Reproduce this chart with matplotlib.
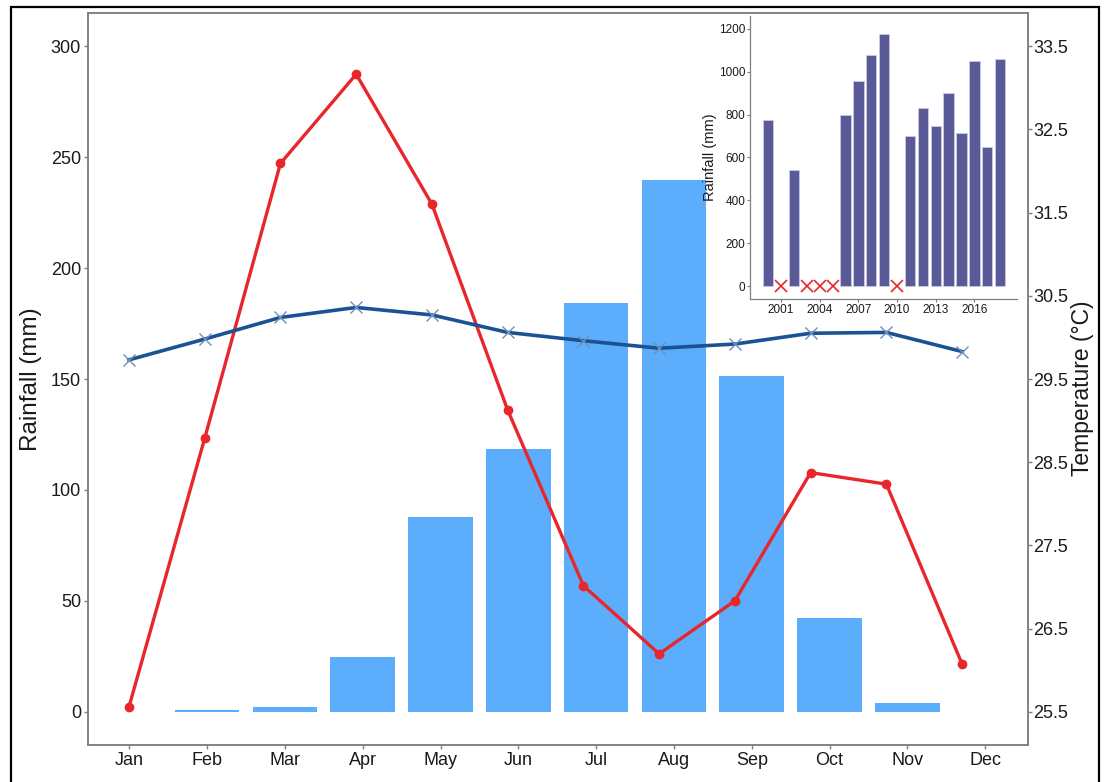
import matplotlib.pyplot as plt
from matplotlib.patches import Rectangle

plt.rcParams['font.family'] = ['Liberation Sans', 'DejaVu Sans']

# monthly data
months = ["Jan", "Feb", "Mar", "Apr", "May", "Jun", "Jul", "Aug", "Sep", "Oct", "Nov", "Dec"]
rainfall = [0, 0.9, 2.1, 24.6, 87.8, 118.5, 184.2, 239.6, 151.4, 42.2, 4.0, 0]
red_line = [2.2, 123.3, 247.2, 287.4, 228.8, 136.0, 56.8, 26.1, 50.0, 107.8, 102.6, 21.5]
temperature = [29.73, 29.98, 30.24, 30.36, 30.27, 30.06, 29.96, 29.87, 29.92, 30.05, 30.06, 29.83]

# annual rainfall (inset), None = missing year
years = list(range(2000, 2019))
annual = [775, None, 544, None, None, None, 799, 957, 1078, 1175, None,
          700, 832, 745, 901, 715, 1050, 648, 1061]
year_ticks = [2001, 2004, 2007, 2010, 2013, 2016]

W, H = 1104, 782
fig = plt.figure(figsize=(W / 100, H / 100), dpi=100)

grey = "#7f7f7f"
txt = "#1a1a1a"

def px_box(x0, y0, x1, y1):
    return [x0 / W, 1 - y1 / H, (x1 - x0) / W, (y1 - y0) / H]

# main axes
ax = fig.add_axes(px_box(88, 13, 1028, 745))
x = list(range(len(months)))
ax.bar(x, rainfall, width=0.83, color="#5dadfd", linewidth=0, zorder=2)
ax.set_xlim(-0.53, 11.55)
ax.set_ylim(-15, 315)
ax.set_yticks([0, 50, 100, 150, 200, 250, 300])
ax.set_xticks(x)
ax.set_xticklabels(months)
ax.set_ylabel("Rainfall (mm)", fontsize=17.5, color=txt)
ax.yaxis.set_label_coords(-0.049, 0.5)
for s in ax.spines.values():
    s.set_color(grey)
    s.set_linewidth(1.1)
ax.tick_params(colors=grey, labelcolor=txt, labelsize=13, length=3, width=1, pad=2)

# right axis for temperature
ax_t = ax.twinx()
ax_t.set_ylim(25.1, 33.9)
ax_t.set_yticks([25.5, 26.5, 27.5, 28.5, 29.5, 30.5, 31.5, 32.5, 33.5])
ax_t.set_ylabel("Temperature (°C)", fontsize=16.5, color=txt)
ax_t.yaxis.set_label_coords(1.0457, 0.487)
for s in ax_t.spines.values():
    s.set_color(grey)
    s.set_linewidth(1.1)
ax_t.tick_params(colors=grey, labelcolor=txt, labelsize=13, length=3, width=1, pad=1)

# lines (overlaid on their own axes, slightly narrower spacing as in the original)
ax_l = fig.add_axes(px_box(88, 13, 1028, 745))
ax_l.patch.set_alpha(0)
ax_l.set_xlim(-0.541, 11.87)
ax_l.set_ylim(-15, 315)
ax_l.axis("off")
ax_l.plot(x, red_line, color="#e8262b", lw=2.4, marker="o", ms=6, zorder=3)

ax_l2 = ax_l.twinx()
ax_l2.set_ylim(25.1, 33.9)
ax_l2.axis("off")
ax_l2.plot(x, temperature, color="#1b5294", lw=2.6, marker="x", ms=9,
           mec="#6a8fba", mew=1.0, solid_joinstyle="round", zorder=3)

# inset
ax_in = fig.add_axes(px_box(750, 16, 1017, 299))
present_y = [y for y, v in zip(years, annual) if v is not None]
present_v = [v for v in annual if v is not None]
missing_y = [y for y, v in zip(years, annual) if v is None]
ax_in.bar(present_y, present_v, width=0.8, color="#5a5a99", edgecolor="#c9c9e3", linewidth=0.6)
ax_in.plot(missing_y, [0] * len(missing_y), linestyle="none", marker="x",
           color="#e8262b", ms=8, mew=1.2)
ax_in.set_xlim(1998.6, 2019.3)
ax_in.set_ylim(-60, 1260)
ax_in.set_yticks([0, 200, 400, 600, 800, 1000, 1200])
ax_in.set_xticks(year_ticks)
ax_in.set_ylabel("Rainfall (mm)", fontsize=10.5, color=txt)
ax_in.yaxis.set_label_coords(-0.125, 0.5)
ax_in.spines["top"].set_visible(False)
ax_in.spines["right"].set_visible(False)
for s in ("left", "bottom"):
    ax_in.spines[s].set_color(grey)
    ax_in.spines[s].set_linewidth(0.9)
ax_in.tick_params(colors=grey, labelcolor=txt, labelsize=8.5, length=2, width=0.8, pad=1.5)

# outer black frame
fig.patches.append(Rectangle((11 / W, -0.02), (1099 - 11) / W, 1.02 - 7 / H,
                             transform=fig.transFigure, fill=False,
                             edgecolor="black", linewidth=1.6))

fig.savefig("out.png", dpi=100)
